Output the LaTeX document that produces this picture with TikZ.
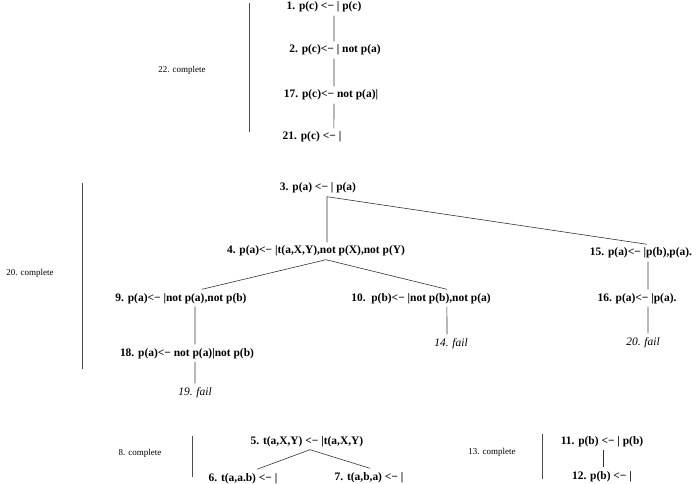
\documentclass[tikz,border=0pt]{standalone}
\usepackage{fontspec}
\setmainfont{Liberation Serif}
\usepackage{tikz}

\begin{document}
\begin{tikzpicture}[x=1bp,y=-1bp,
  goal/.style={font=\fontsize{11.5}{13}\selectfont\bfseries,inner sep=3bp,text height=8.5bp,text depth=2.5bp},
  fail/.style={font=\fontsize{11.5}{13}\selectfont\itshape,inner sep=3bp,text height=8.5bp,text depth=2.5bp},
  done/.style={font=\fontsize{9}{11}\selectfont},
  edge/.style={draw=black!80,line width=0.6bp},
  bar/.style={draw=black!70,line width=1bp}]
  \useasboundingbox (0,0) rectangle (698,484);

  % tree for p(c)
  \node[goal] (n1) at (324,7) {1. p(c) <− | p(c)};
  \node[goal] (n2) at (335,50) {2. p(c)<− | not p(a)};
  \node[goal] (n17) at (331,95) {17. p(c)<− not p(a)|};
  \node[goal] (n21) at (312,137) {21. p(c) <− |};
  \draw[edge] ([xshift=10]n1.south) -- ([xshift=-1]n2.north);
  \draw[edge] ([xshift=-1]n2.south) -- ([xshift=3]n17.north);
  \draw[edge] ([xshift=3]n17.south) -- ([xshift=22]n21.north);
  \draw[bar] (249,3) -- (249,132);
  \node[done] (c22) at (182,70) {22. complete};

  % tree for p(a)
  \node[goal] (n3) at (318,188) {3. p(a) <− | p(a)};
  \node[goal] (n4) at (316,251) {4. p(a)<− |t(a,X,Y),not p(X),not p(Y)};
  \node[goal] (n15) at (641,253) {15. p(a)<− |p(b),p(a).};
  \draw[edge] ([xshift=9]n3.south) -- ([xshift=11]n4.north);
  \draw[edge] ([xshift=9]n3.south) -- ([xshift=6]n15.north);

  \node[goal] (n9) at (181,298) {9. p(a)<− |not p(a),not p(b)};
  \node[goal] (n10) at (421,298) {10.\ \ p(b)<− |not p(b),not p(a)};
  \draw[edge] ([xshift=10]n4.south) -- ([xshift=21]n9.north);
  \draw[edge] ([xshift=10]n4.south) -- ([xshift=26]n10.north);

  \node[goal] (n18) at (187,353) {18. p(a)<− not p(a)|not p(b)};
  \node[fail] (n19) at (195,392) {19. fail};
  \draw[edge] ([xshift=14]n9.south) -- ([xshift=8]n18.north);
  \draw[edge] ([xshift=8]n18.south) -- (n19.north);

  \node[fail] (n14) at (451,343) {14. fail};
  \draw[edge] ([xshift=26]n10.south) -- ([xshift=-4]n14.north);

  \node[goal] (n16) at (637,298) {16. p(a)<− |p(a).};
  \node[fail] (n20) at (643,342) {20. fail};
  \draw[edge] ([xshift=7]n15.south) -- ([xshift=11]n16.north);
  \draw[edge] ([xshift=11]n16.south) -- ([xshift=5]n20.north);

  \draw[bar] (82,183) -- (82,369);
  \node[done] (c20) at (30,273) {20. complete};

  % tree for t(a,X,Y)
  \node[goal] (n5) at (307,441) {5. t(a,X,Y) <− |t(a,X,Y)};
  \node[goal] (n6) at (243,478) {6. t(a,a.b) <− |};
  \node[goal] (n7) at (369,477) {7. t(a,b,a) <− |};
  \draw[edge] ([xshift=3]n5.south) -- ([xshift=14]n6.north);
  \draw[edge] ([xshift=3]n5.south) -- ([xshift=1]n7.north);
  \draw[bar] (192,436) -- (192,477);
  \node[done] (c8) at (140,453) {8. complete};

  % tree for p(b)
  \node[goal] (n11) at (602,441) {11. p(b) <− | p(b)};
  \node[goal] (n12) at (602,476) {12. p(b) <− |};
  \draw[edge] ([xshift=1]n11.south) -- ([xshift=1]n12.north);
  \draw[bar] (542,434) -- (542,479);
  \node[done] (c13) at (492,452) {13. complete};
\end{tikzpicture}
\end{document}
